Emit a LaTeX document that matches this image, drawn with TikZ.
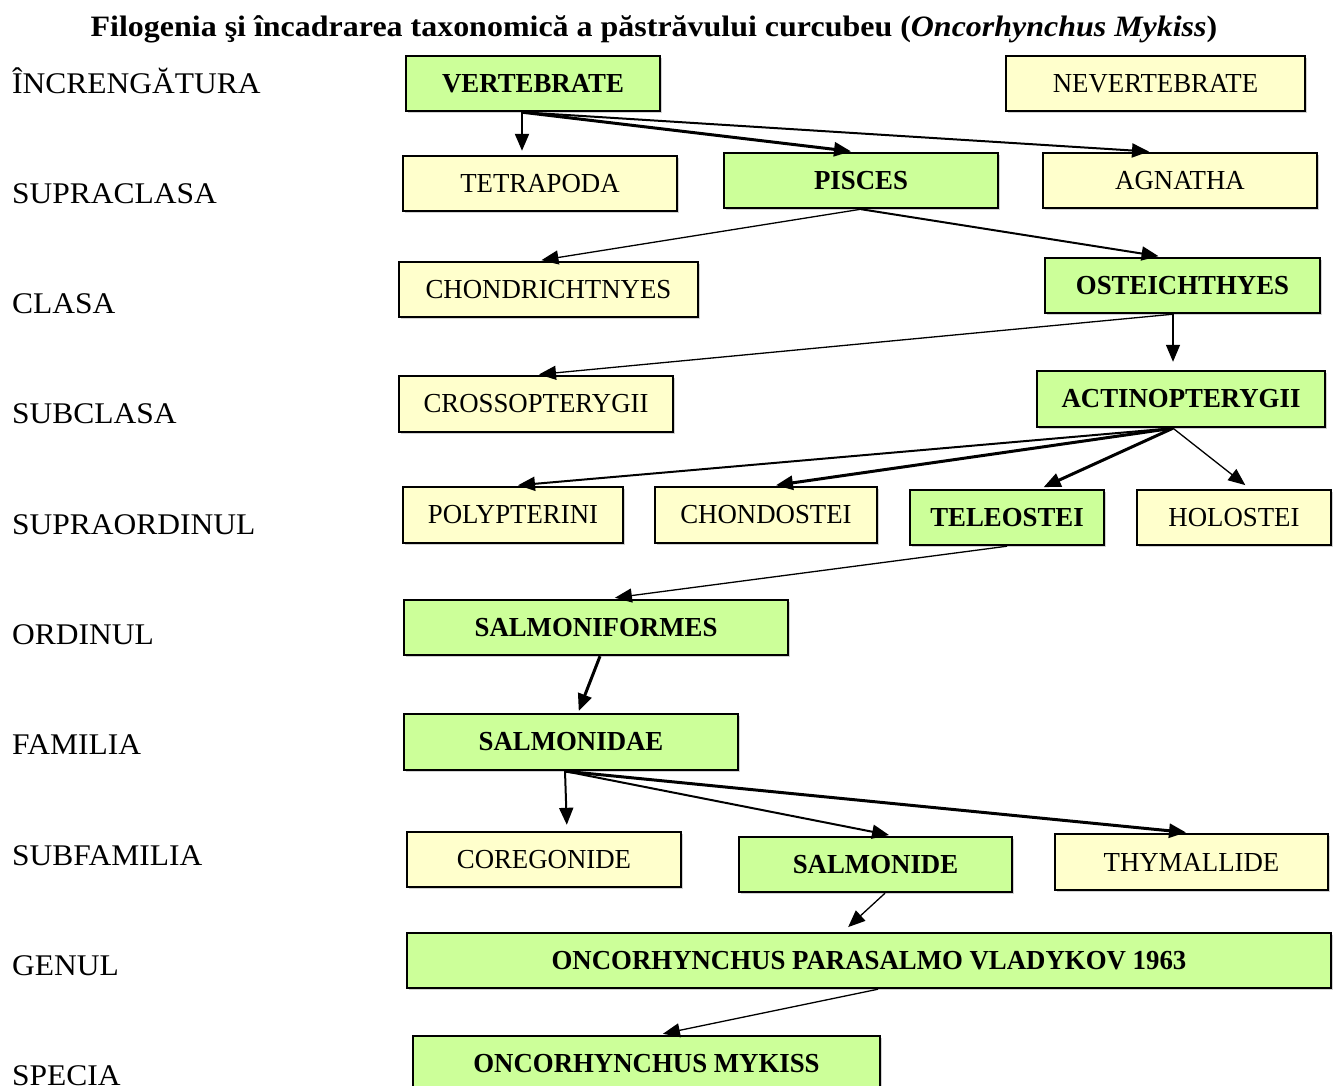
\documentclass[tikz,border=0pt]{standalone}
\usepackage{fontspec}
\setmainfont{Liberation Serif}[FakeStretch=1.08]
\newfontfamily\labfont{Liberation Serif}[FakeStretch=1.05]
\newfontfamily\boxfont{Liberation Serif}[FakeStretch=0.975]
\usetikzlibrary{arrows.meta,shadows}
\definecolor{gfill}{RGB}{204,255,153}
\definecolor{yfill}{RGB}{255,255,204}
\begin{document}
\begin{tikzpicture}[x=1pt,y=-1pt,
  box/.style={draw=black,line width=2.4pt,inner sep=0pt,minimum height=55pt,
    drop shadow={shadow xshift=1.5pt,shadow yshift=-1.5pt,fill=black!35}},
  gbox/.style={box,fill=gfill,font=\boxfont\fontsize{27.5}{30}\selectfont\bfseries},
  ybox/.style={box,fill=yfill,font=\boxfont\fontsize{27.5}{30}\selectfont},
  lab/.style={anchor=base west,inner sep=0pt,font=\labfont\fontsize{30}{32}\selectfont},
  arr/.style={-{Triangle[length=17pt,width=14pt]},shorten >=4pt},
  lwa/.style={line width=1.3pt},
  lwb/.style={line width=2pt},
  lwc/.style={line width=3pt}]
\useasboundingbox (0,0) rectangle (1339,1085);
\clip (0,0) rectangle (1339,1085);
% title
\node[font=\fontsize{29.6}{32}\selectfont\bfseries,inner sep=0pt,anchor=base] (title) at (654,36)
  {Filogenia şi încadrarea taxonomică a păstrăvului curcubeu (\textit{Oncorhynchus Mykiss})};
% labels
\node[lab] (l1) at (12,93) {ÎNCRENGĂTURA};
\node[lab] (l2) at (12,203) {SUPRACLASA};
\node[lab] (l3) at (12,313) {CLASA};
\node[lab] (l4) at (12,423) {SUBCLASA};
\node[lab] (l5) at (12,534) {SUPRAORDINUL};
\node[lab] (l6) at (12,644) {ORDINUL};
\node[lab] (l7) at (12,754) {FAMILIA};
\node[lab] (l8) at (12,865) {SUBFAMILIA};
\node[lab] (l9) at (12,975) {GENUL};
\node[lab] (l10) at (12,1085) {SPECIA};
% boxes
\node[gbox,minimum width=254pt] (vert) at (533,83.5) {VERTEBRATE};
\node[ybox,minimum width=299pt] (never) at (1155.5,83.5) {NEVERTEBRATE};
\node[ybox,minimum width=274pt] (tetra) at (540,183.5) {TETRAPODA};
\node[gbox,minimum width=274pt] (pisces) at (861,180.5) {PISCES};
\node[ybox,minimum width=274pt] (agnatha) at (1180,180.5) {AGNATHA};
\node[ybox,minimum width=299pt] (chondr) at (548.5,289.5) {CHONDRICHTNYES};
\node[gbox,minimum width=275pt] (osteich) at (1182.5,285.5) {OSTEICHTHYES};
\node[ybox,minimum width=274pt,minimum height=56pt] (crosso) at (536,404) {CROSSOPTERYGII};
\node[gbox,minimum width=288pt,minimum height=56pt] (actino) at (1181,399) {ACTINOPTERYGII};
\node[ybox,minimum width=220pt,minimum height=56pt] (polyp) at (513,515) {POLYPTERINI};
\node[ybox,minimum width=222pt,minimum height=56pt] (chondo) at (766,515) {CHONDOSTEI};
\node[gbox,minimum width=194pt] (teleo) at (1007,517.5) {TELEOSTEI};
\node[ybox,minimum width=194pt] (holo) at (1234,517.5) {HOLOSTEI};
\node[gbox,minimum width=384pt] (sform) at (596,627.5) {SALMONIFORMES};
\node[gbox,minimum width=334pt,minimum height=56pt] (sdae) at (571,742) {SALMONIDAE};
\node[ybox,minimum width=274pt] (coreg) at (544,859.5) {COREGONIDE};
\node[gbox,minimum width=273pt] (sde) at (875.5,864.5) {SALMONIDE};
\node[ybox,minimum width=273pt,minimum height=56pt] (thym) at (1191.5,862) {THYMALLIDE};
\node[gbox,minimum width=924pt] (genus) at (869,960.5) {ONCORHYNCHUS PARASALMO VLADYKOV 1963};
\node[gbox,minimum width=467pt] (mykiss) at (646.5,1063.5) {ONCORHYNCHUS MYKISS};
% connectors
\draw[arr,lwb] ([xshift=-11pt]vert.south) -- ([xshift=-18pt]tetra.north);
\draw[arr,lwc] ([xshift=-11pt]vert.south) -- ([xshift=-6pt]pisces.north);
\draw[arr,lwb] ([xshift=-11pt]vert.south) -- ([xshift=-27pt]agnatha.north);
\draw[arr,lwa] (pisces.south) -- ([xshift=-11pt]chondr.north);
\draw[arr,lwb] (pisces.south) -- ([xshift=-20pt]osteich.north);
\draw[arr,lwa] ([xshift=-9.5pt]osteich.south) -- ([xshift=-1pt]crosso.north);
\draw[arr,lwa,shorten >=8pt] ([xshift=-9.5pt]osteich.south) -- ([xshift=-8pt]actino.north);
\draw[arr,lwb,shorten >=6pt] ([xshift=-8pt]actino.south) -- ([xshift=-1pt]polyp.north);
\draw[arr,lwc] ([xshift=-8pt]actino.south) -- ([xshift=6pt]chondo.north);
\draw[arr,lwc] ([xshift=-8pt]actino.south) -- ([xshift=33pt]teleo.north);
\draw[arr,lwa,shorten >=6pt] ([xshift=-8pt]actino.south) -- ([xshift=16pt]holo.north);
\draw[arr,lwa,shorten >=8pt] (teleo.south) -- ([xshift=11pt]sform.north);
\draw[arr,lwc,shorten >=2pt] ([xshift=4pt]sform.south) -- ([xshift=7pt]sdae.north);
\draw[arr,lwb,shorten >=6pt] ([xshift=-6pt]sdae.south) -- ([xshift=23pt]coreg.north);
\draw[arr,lwb] ([xshift=-6pt]sdae.south) -- ([xshift=17.5pt]sde.north);
\draw[arr,lwc] ([xshift=-6pt]sdae.south) -- ([xshift=-1.5pt]thym.north);
\draw[arr,lwa,shorten >=7pt] ([xshift=9.5pt]sde.south) -- ([xshift=-26pt]genus.north);
\draw[arr,lwa,shorten >=5pt] ([xshift=9pt]genus.south) -- ([xshift=11.5pt]mykiss.north);
\end{tikzpicture}
\end{document}
